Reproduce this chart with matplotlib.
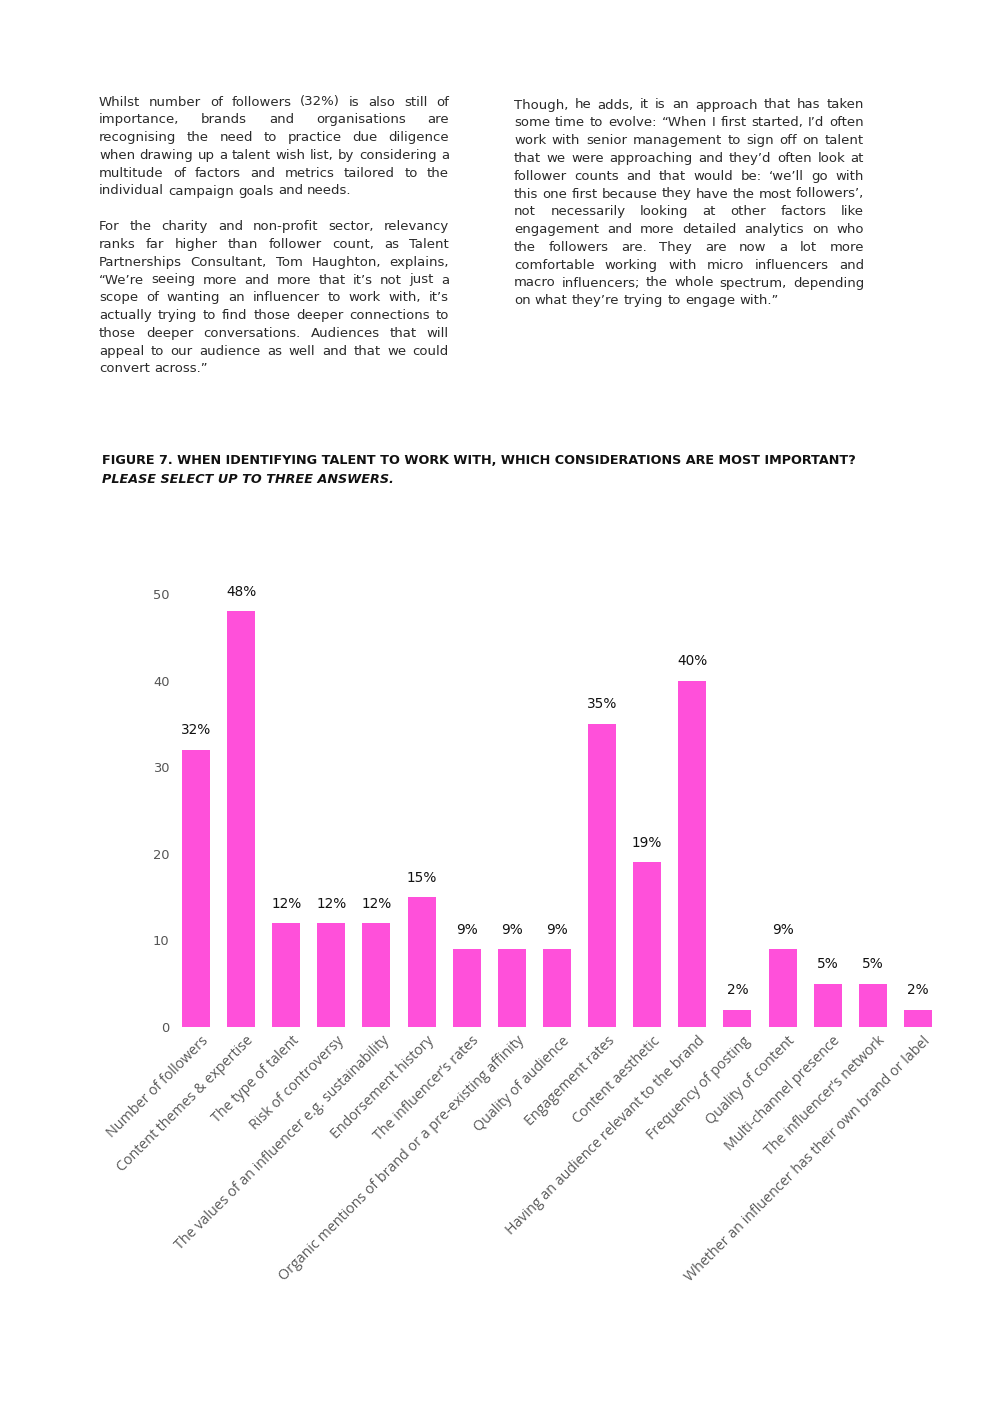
import matplotlib
matplotlib.use("Agg")
import matplotlib.pyplot as plt
import matplotlib.transforms as mtransforms

# ---------------- data ----------------
categories = [
    "Number of followers",
    "Content themes & expertise",
    "The type of talent",
    "Risk of controversy",
    "The values of an influencer e.g. sustainability",
    "Endorsement history",
    "The influencer’s rates",
    "Organic mentions of brand or a pre-existing affinity",
    "Quality of audience",
    "Engagement rates",
    "Content aesthetic",
    "Having an audience relevant to the brand",
    "Frequency of posting",
    "Quality of content",
    "Multi-channel presence",
    "The influencer’s network",
    "Whether an influencer has their own brand or label",
]
values = [32, 48, 12, 12, 12, 15, 9, 9, 9, 35, 19, 40, 2, 9, 5, 5, 2]
yticks = [0, 10, 20, 30, 40, 50]

title_line1 = "FIGURE 7. WHEN IDENTIFYING TALENT TO WORK WITH, WHICH CONSIDERATIONS ARE MOST IMPORTANT?"
title_line2 = "PLEASE SELECT UP TO THREE ANSWERS."

left_paragraphs = [
    [
        "Whilst number of followers (32%) is also still of",
        "importance, brands and organisations are",
        "recognising the need to practice due diligence",
        "when drawing up a talent wish list, by considering a",
        "multitude of factors and metrics tailored to the",
        "individual campaign goals and needs.",
    ],
    [
        "For the charity and non-profit sector, relevancy",
        "ranks far higher than follower count, as Talent",
        "Partnerships Consultant, Tom Haughton, explains,",
        "“We’re seeing more and more that it’s not just a",
        "scope of wanting an influencer to work with, it’s",
        "actually trying to find those deeper connections to",
        "those deeper conversations. Audiences that will",
        "appeal to our audience as well and that we could",
        "convert across.”",
    ],
]
right_paragraphs = [
    [
        "Though, he adds, it is an approach that has taken",
        "some time to evolve: “When I first started, I’d often",
        "work with senior management to sign off on talent",
        "that we were approaching and they’d often look at",
        "follower counts and that would be: ‘we’ll go with",
        "this one first because they have the most followers’,",
        "not necessarily looking at other factors like",
        "engagement and more detailed analytics on who",
        "the followers are. They are now a lot more",
        "comfortable working with micro influencers and",
        "macro influencers; the whole spectrum, depending",
        "on what they’re trying to engage with.”",
    ],
]

# ---------------- figure ----------------
W, H = 992, 1404
fig = plt.figure(figsize=(W / 100, H / 100), dpi=100)
fig.patch.set_facecolor("white")
renderer = fig.canvas.get_renderer()


def fx(x):
    return x / W


def fy(y):
    return 1 - y / H


def text_width(s, **kw):
    t = fig.text(0, 0, s, **kw)
    w = t.get_window_extent(renderer).width
    t.remove()
    return w


# fit body font so that a natural (unjustified) last line matches the page
BODY_FAMILY = "DejaVu Sans"
w10 = text_width("individual campaign goals and needs.", family=BODY_FAMILY, fontsize=10)
BODY = dict(family=BODY_FAMILY, fontsize=10 * 252 / w10, color="#2a2a2a")


def justify_block(paragraphs, x0, x1, y0, dy, pgap, **kw):
    space = text_width("a a", **kw) - text_width("aa", **kw)
    y = y0
    for para in paragraphs:
        for i, line in enumerate(para):
            words = line.split(" ")
            widths = [text_width(w, **kw) for w in words]
            last = i == len(para) - 1
            if last or len(words) == 1:
                gap = space
            else:
                gap = (x1 - x0 - sum(widths)) / (len(words) - 1)
            x = x0
            for w, wd in zip(words, widths):
                fig.text(fx(x), fy(y), w, ha="left", va="center", **kw)
                x += wd + gap
            y += dy
        y += pgap


justify_block(left_paragraphs, 99, 449, 102, 17.8, 17.8, **BODY)
justify_block(right_paragraphs, 514, 864, 105, 17.8, 17.8, **BODY)

# title
TITLE = dict(family="DejaVu Sans", fontweight="bold", color="#111111")
tw = text_width(title_line1, fontsize=10, **TITLE)
tsize = 10 * 759 / tw
fig.text(fx(102), fy(461), title_line1, ha="left", va="center", fontsize=tsize, **TITLE)
fig.text(fx(102), fy(479), title_line2, ha="left", va="center", fontsize=tsize,
         style="italic", **TITLE)

# ---------------- chart ----------------
ax = fig.add_axes([fx(175), fy(1027), (940 - 175) / W, (1027 - 594) / H])
x = list(range(len(categories)))
ax.bar(x, values, width=0.62, color="#ff50da", zorder=2)
ax.set_xlim(-0.465, 16.49)
ax.set_ylim(0, 50)
for s in ax.spines.values():
    s.set_visible(False)
ax.set_yticks(yticks)
ax.set_yticklabels([str(v) for v in yticks], family="DejaVu Sans", fontsize=9.4,
                   color="#555555")
ax.tick_params(axis="y", length=0, pad=4)
ax.set_xticks(x)
ax.set_xticklabels(categories, rotation=45, ha="right", rotation_mode="anchor",
                   family="Open Sans", fontsize=10.3, color="#595959")
ax.tick_params(axis="x", length=0, pad=5)
shift = mtransforms.ScaledTranslation(5 / 100, 0.5 / 100, fig.dpi_scale_trans)
for lab in ax.get_xticklabels():
    lab.set_transform(lab.get_transform() + shift)

for xi, v in zip(x, values):
    ax.annotate(f"{v}%", (xi, v), xytext=(0, 14), textcoords="offset points",
                ha="center", va="center", family="DejaVu Sans", fontsize=9.8,
                color="#111111", annotation_clip=False)

fig.savefig("out.png", dpi=100, facecolor="white")
